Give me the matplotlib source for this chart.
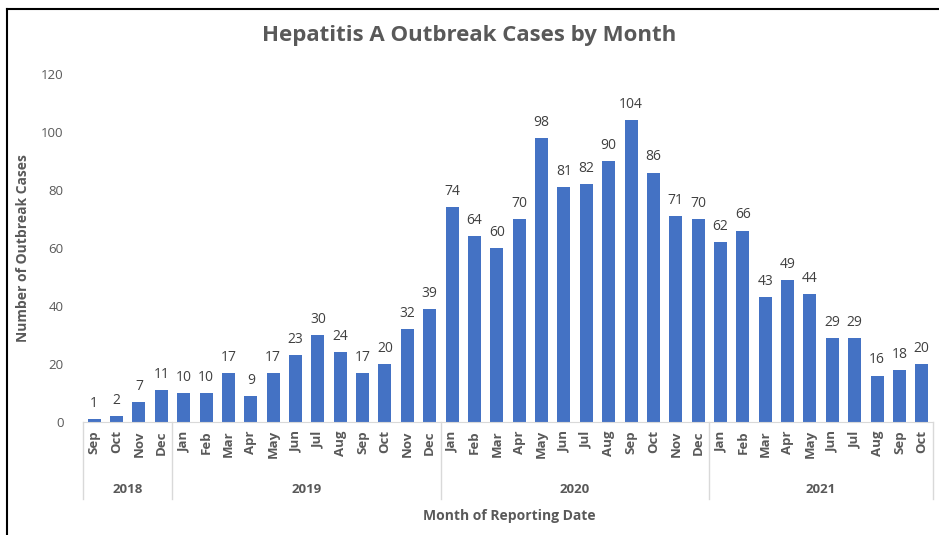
import matplotlib.pyplot as plt
from matplotlib.transforms import blended_transform_factory

years = ['2018', '2019', '2020', '2021']
months_per_year = [
    ['Sep', 'Oct', 'Nov', 'Dec'],
    ['Jan', 'Feb', 'Mar', 'Apr', 'May', 'Jun', 'Jul', 'Aug', 'Sep', 'Oct', 'Nov', 'Dec'],
    ['Jan', 'Feb', 'Mar', 'Apr', 'May', 'Jun', 'Jul', 'Aug', 'Sep', 'Oct', 'Nov', 'Dec'],
    ['Jan', 'Feb', 'Mar', 'Apr', 'May', 'Jun', 'Jul', 'Aug', 'Sep', 'Oct'],
]
cases = [
    1, 2, 7, 11,
    10, 10, 17, 9, 17, 23, 30, 24, 17, 20, 32, 39,
    74, 64, 60, 70, 98, 81, 82, 90, 104, 86, 71, 70,
    62, 66, 43, 49, 44, 29, 29, 16, 18, 20,
]

plt.rcParams['font.family'] = ['Open Sans', 'DejaVu Sans']
grey = '#595959'
bar_color = '#4472C4'

months = [m for ms in months_per_year for m in ms]
x = list(range(len(months)))

fig = plt.figure(figsize=(9.39, 5.35), dpi=100)
ax = fig.add_axes([0.0884, 0.2112, 0.9052, 0.6505])

bars = ax.bar(x, cases, width=0.58, color=bar_color)
for xi, v in zip(x, cases):
    ax.text(xi, v + 2.8, str(v), ha='center', va='bottom', fontsize=10, color='#404040')

ax.set_xlim(-0.5, len(months) - 0.5)
ax.set_ylim(0, 120)
ax.set_yticks(range(0, 121, 20))
ax.tick_params(axis='y', length=0, labelsize=9.5, labelcolor=grey, pad=14)
ax.set_xticks(x)
ax.set_xticklabels(months, rotation=90, fontsize=9.5, color=grey, fontweight='bold')
ax.tick_params(axis='x', length=0, pad=6)

for s in ['top', 'right', 'left']:
    ax.spines[s].set_visible(False)
ax.spines['bottom'].set_color('#d9d9d9')

# year groups below the month labels
trans = blended_transform_factory(ax.transData, ax.transAxes)
start = 0
bounds = [-0.5]
for yr, ms in zip(years, months_per_year):
    end = start + len(ms)
    ax.text((start + end - 1) / 2, -0.195, yr, transform=trans, ha='center', va='center',
            fontsize=9.5, color=grey, fontweight='bold')
    bounds.append(end - 0.5)
    start = end
for b in bounds:
    ax.plot([b, b], [0, -0.22], transform=trans, color='#d9d9d9', lw=1, clip_on=False)

fig.text(0.5, 0.934, 'Hepatitis A Outbreak Cases by Month', ha='center', va='center',
         fontsize=16, fontweight='bold', color=grey)
ax.set_ylabel('Number of Outbreak Cases', fontsize=10, fontweight='bold', color=grey, labelpad=8)
fig.text(0.542, 0.035, 'Month of Reporting Date', ha='center', va='center',
         fontsize=10, fontweight='bold', color=grey)

# screenshot frame on left and top
fig.add_artist(plt.Line2D([0.0075, 0.0075], [0, 0.983], color='black', lw=1.5))
fig.add_artist(plt.Line2D([0.0075, 1], [0.983, 0.983], color='black', lw=1.5))

fig.savefig('out.png', dpi=100)
